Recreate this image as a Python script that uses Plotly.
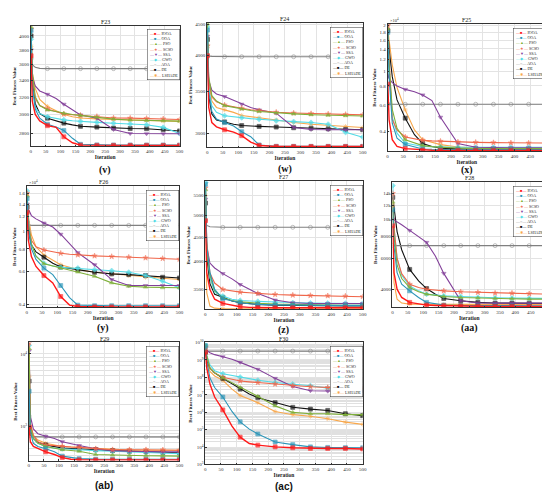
import numpy as np
import plotly.graph_objects as go

ITER = [1, 5, 15, 30, 56, 85, 111, 140, 167, 222, 278, 334, 389, 445, 500]
MARKED = [1, 56, 111, 167, 222, 278, 334, 389, 445, 500]
ALGOS = ["IOOA", "OOA", "PSO", "SCSO", "SSA", "GWO", "AOA", "DE", "LSHADE"]

F23 = {
    "IOOA": [3720, 3150, 3000, 2930, 2880, 2862, 2765, 2705, 2682, 2680, 2680, 2680, 2680, 2680, 2680],
    "OOA": [4080, 3350, 3060, 2960, 2895, 2865, 2830, 2750, 2690, 2684, 2683, 2683, 2683, 2683, 2683],
    "PSO": [4130, 3500, 3200, 3100, 3050, 3030, 3012, 3000, 2990, 2970, 2950, 2940, 2935, 2932, 2928],
    "SCSO": [4100, 3450, 3180, 3100, 3062, 3035, 3005, 2998, 2992, 2978, 2962, 2960, 2957, 2952, 2945],
    "SSA": [3800, 3450, 3330, 3270, 3230, 3180, 3115, 3050, 2995, 2960, 2840, 2798, 2796, 2796, 2796],
    "GWO": [3950, 3300, 3080, 3010, 2975, 2955, 2942, 2932, 2925, 2915, 2905, 2898, 2890, 2862, 2798],
    "AOA": [3680, 3600, 3565, 3552, 3548, 3548, 3548, 3548, 3548, 3548, 3548, 3548, 3548, 3548, 3548],
    "DE": [4000, 3400, 3120, 3010, 2960, 2930, 2907, 2888, 2873, 2865, 2855, 2850, 2848, 2840, 2825],
    "LSHADE": [3850, 3500, 3300, 3170, 3090, 3040, 3000, 2975, 2962, 2952, 2945, 2940, 2935, 2930, 2925],
}
F24 = {
    "IOOA": [4000, 3300, 3120, 3070, 3037, 3010, 2971, 2900, 2865, 2854, 2854, 2854, 2854, 2854, 2854],
    "OOA": [4400, 3500, 3250, 3160, 3119, 3080, 3015, 2960, 2870, 2856, 2855, 2855, 2855, 2855, 2855],
    "PSO": [4500, 3700, 3450, 3380, 3322, 3300, 3280, 3262, 3250, 3232, 3222, 3212, 3206, 3200, 3196],
    "SCSO": [4150, 3650, 3430, 3370, 3330, 3305, 3290, 3272, 3260, 3242, 3232, 3225, 3220, 3215, 3210],
    "SSA": [4300, 3650, 3520, 3470, 3436, 3390, 3340, 3300, 3270, 3230, 3063, 3040, 3037, 3037, 3037],
    "GWO": [4450, 3550, 3320, 3240, 3200, 3185, 3176, 3165, 3158, 3140, 3130, 3120, 3100, 3008, 2954],
    "AOA": [4010, 3995, 3990, 3988, 3985, 3985, 3985, 3985, 3985, 3985, 3985, 3985, 3985, 3985, 3985],
    "DE": [4250, 3450, 3220, 3150, 3127, 3100, 3085, 3078, 3075, 3068, 3060, 3055, 3048, 3040, 3037],
    "LSHADE": [4150, 3600, 3380, 3300, 3270, 3240, 3203, 3185, 3176, 3150, 3120, 3100, 3085, 3075, 3063],
}
F25 = {
    "IOOA": [8220, 4780, 3530, 3193, 3084, 3050, 3021, 3010, 3006, 3005, 3005, 3005, 3005, 3005, 3005],
    "OOA": [18000, 9200, 4540, 3620, 3280, 3160, 3070, 3055, 3045, 3040, 3040, 3040, 3040, 3040, 3040],
    "PSO": [19000, 11000, 5600, 4200, 3530, 3360, 3230, 3180, 3150, 3110, 3090, 3085, 3085, 3085, 3085],
    "SCSO": [20000, 12000, 4800, 4100, 3680, 3570, 3500, 3470, 3450, 3410, 3395, 3380, 3365, 3360, 3360],
    "SSA": [9400, 8950, 8390, 7980, 7580, 7320, 6970, 6400, 4970, 3330, 3150, 3130, 3130, 3130, 3130],
    "GWO": [21000, 10000, 5000, 3900, 3360, 3250, 3190, 3175, 3160, 3150, 3150, 3150, 3150, 3150, 3150],
    "AOA": [6080, 6060, 6050, 6050, 6050, 6050, 6050, 6050, 6050, 6050, 6050, 6050, 6050, 6050, 6050],
    "DE": [18500, 14000, 9200, 6460, 4900, 3810, 3330, 3190, 3110, 3070, 3040, 3040, 3040, 3040, 3040],
    "LSHADE": [20000, 16000, 11000, 7800, 5550, 4100, 3530, 3400, 3280, 3160, 3110, 3080, 3065, 3060, 3060],
}
F26 = {
    "IOOA": [12640, 8910, 7260, 6410, 5720, 5220, 4400, 3950, 3880, 3860, 3860, 3860, 3860, 3860, 3860],
    "OOA": [15000, 10500, 8000, 7000, 6280, 5790, 5050, 4340, 3950, 3920, 3920, 3920, 3920, 3920, 3920],
    "PSO": [15500, 11000, 8500, 7300, 6630, 6450, 6280, 6140, 5980, 5670, 5220, 5000, 4950, 4910, 4910],
    "SCSO": [16000, 11000, 8910, 8210, 7880, 7690, 7560, 7470, 7410, 7320, 7260, 7200, 7140, 7080, 7020],
    "SSA": [14000, 13170, 12130, 11640, 11040, 10500, 9600, 8550, 7620, 6550, 5440, 5050, 5050, 5050, 5050],
    "GWO": [16500, 11500, 8500, 7300, 6680, 6450, 6340, 6300, 6280, 6160, 6080, 5960, 5720, 5330, 4910],
    "AOA": [11200, 10800, 10730, 10730, 10730, 10730, 10730, 10730, 10730, 10730, 10730, 10730, 10730, 10730, 10730],
    "DE": [13500, 10000, 8400, 7700, 7200, 6680, 6360, 6270, 6160, 5960, 5840, 5790, 5720, 5600, 5550],
    "LSHADE": [15500, 12000, 9500, 8200, 7400, 6900, 6550, 6350, 6160, 5960, 5840, 5720, 5600, 5530, 5440],
}
F27 = {
    "IOOA": [4870, 3790, 3500, 3340, 3273, 3243, 3222, 3212, 3206, 3205, 3205, 3205, 3205, 3205, 3205],
    "OOA": [5800, 4300, 3800, 3500, 3347, 3309, 3283, 3268, 3258, 3250, 3245, 3243, 3243, 3243, 3243],
    "PSO": [5650, 4200, 3750, 3480, 3360, 3320, 3300, 3285, 3275, 3262, 3255, 3250, 3247, 3245, 3243],
    "SCSO": [5700, 4400, 3790, 3610, 3500, 3472, 3456, 3445, 3433, 3417, 3406, 3400, 3395, 3390, 3380],
    "SSA": [5400, 4300, 3974, 3881, 3777, 3683, 3584, 3500, 3433, 3326, 3283, 3273, 3273, 3273, 3273],
    "GWO": [5850, 4300, 3700, 3450, 3390, 3340, 3320, 3310, 3305, 3295, 3285, 3280, 3277, 3275, 3273],
    "AOA": [4880, 4760, 4730, 4720, 4718, 4718, 4718, 4718, 4718, 4718, 4718, 4718, 4718, 4718, 4718],
    "DE": [5300, 4100, 3600, 3420, 3370, 3310, 3283, 3268, 3258, 3245, 3240, 3237, 3235, 3235, 3235],
    "LSHADE": [5500, 3444, 3233, 3200, 3191, 3190, 3190, 3190, 3190, 3190, 3190, 3190, 3190, 3190, 3190],
}
F28 = {
    "IOOA": [9160, 4970, 4000, 3590, 3365, 3292, 3250, 3235, 3222, 3210, 3200, 3195, 3194, 3194, 3194],
    "OOA": [11300, 7000, 4970, 4270, 3914, 3590, 3365, 3292, 3250, 3230, 3222, 3222, 3222, 3222, 3222],
    "PSO": [12500, 8000, 5500, 4600, 4085, 3863, 3748, 3680, 3636, 3590, 3560, 3545, 3530, 3512, 3512],
    "SCSO": [14000, 9000, 6000, 4900, 4265, 4085, 4000, 3950, 3914, 3866, 3836, 3800, 3800, 3770, 3748],
    "SSA": [10000, 9900, 9690, 9290, 8630, 7980, 7380, 6160, 4920, 3437, 3340, 3335, 3335, 3335, 3335],
    "GWO": [15500, 9000, 6000, 4800, 4175, 3914, 3748, 3695, 3667, 3636, 3590, 3575, 3560, 3545, 3543],
    "AOA": [7100, 7075, 7073, 7073, 7073, 7073, 7073, 7073, 7073, 7073, 7073, 7073, 7073, 7073, 7073],
    "DE": [13300, 11500, 8500, 6700, 5180, 4455, 4034, 3748, 3543, 3437, 3365, 3337, 3337, 3325, 3323],
    "LSHADE": [12000, 4360, 3512, 3337, 3292, 3285, 3280, 3280, 3280, 3280, 3280, 3280, 3280, 3280, 3280],
}
F29 = {
    "IOOA": [980, 622, 535, 498, 451, 415, 376, 357, 350, 349, 349, 349, 349, 349, 349],
    "OOA": [3070, 841, 591, 535, 498, 451, 394, 376, 364, 358, 357, 357, 357, 357, 357],
    "PSO": [11880, 1030, 688, 591, 535, 508, 483, 470, 459, 415, 407, 403, 399, 397, 394],
    "SCSO": [14230, 1140, 762, 622, 562, 545, 535, 525, 519, 498, 483, 483, 483, 480, 474],
    "SSA": [11060, 1397, 931, 801, 738, 688, 622, 580, 551, 498, 469, 459, 451, 451, 451],
    "GWO": [13130, 1030, 688, 591, 535, 508, 498, 488, 483, 469, 459, 451, 443, 435, 427],
    "AOA": [1400, 760, 730, 725, 724, 724, 724, 724, 724, 724, 724, 724, 724, 724, 724],
    "DE": [4235, 931, 688, 610, 562, 530, 508, 502, 498, 483, 469, 459, 451, 443, 439],
    "LSHADE": [4930, 1030, 762, 655, 591, 562, 535, 525, 519, 498, 483, 478, 476, 474, 474],
}
F30 = {
    "IOOA": [2.8e9, 3.4e8, 4.1e7, 7.4e6, 1.35e6, 1.6e5, 3.7e4, 1.6e4, 1.29e4, 1.02e4, 9.1e3, 8.3e3, 8.3e3, 8.3e3, 7.8e3],
    "OOA": [6.6e9, 8.0e8, 9.3e7, 2.6e7, 7.4e6, 1.1e6, 2.8e5, 1.07e5, 5.6e4, 1.95e4, 1.38e4, 1.02e4, 9.5e3, 9.2e3, 9.1e3],
    "PSO": [6.6e9, 1.8e9, 3.4e8, 1.8e8, 9.3e7, 5.0e7, 2.6e7, 1.4e7, 8.1e6, 2.3e6, 9.7e5, 8.2e5, 8.2e5, 7.2e5, 7.2e5],
    "SCSO": [5.3e9, 1.2e9, 3.4e8, 1.8e8, 1.02e8, 7.6e7, 6.2e7, 5.5e7, 5.0e7, 4.1e7, 3.3e7, 2.9e7, 2.6e7, 2.4e7, 2.3e7],
    "SSA": [4.3e9, 3.5e9, 2.6e9, 2.0e9, 1.5e9, 1.1e9, 7.2e8, 4.7e8, 2.9e8, 8.7e7, 3.0e7, 1.7e7, 1.6e7, 1.6e7, 1.6e7],
    "GWO": [7.0e9, 1.8e9, 5.2e8, 2.4e8, 1.6e8, 1.26e8, 1.02e8, 8.3e7, 6.8e7, 5.0e7, 4.1e7, 3.3e7, 2.4e7, 2.1e7, 1.9e7],
    "AOA": [3.2e9, 3.2e9, 3.2e9, 3.2e9, 3.2e9, 3.2e9, 3.2e9, 3.2e9, 3.2e9, 3.2e9, 3.2e9, 3.2e9, 3.2e9, 3.2e9, 3.2e9],
    "DE": [2.8e9, 9.8e8, 3.4e8, 1.8e8, 8.7e7, 4.1e7, 2.1e7, 1.1e7, 6.8e6, 3.5e6, 1.9e6, 1.5e6, 1.26e6, 8.2e5, 6.3e5],
    "LSHADE": [3.5e9, 8.0e8, 2.2e8, 1.2e8, 6.8e7, 2.1e7, 9.1e6, 5.5e6, 3.5e6, 1.1e6, 7.2e5, 5.8e5, 4.2e5, 2.7e5, 2.0e5],
}

X_TICKS = [0, 50, 100, 150, 200, 250, 300, 350, 400, 450, 500]
F23_TICKS = [2800, 3000, 3200, 3400, 3600, 3800, 4000]
F24_TICKS = [3000, 3500, 4000, 4500]
F25_TICKS = [4000, 6000, 8000, 10000, 12000, 14000, 16000, 18000, 20000]
F25_LABELS = ["0.4", "0.6", "0.8", "1", "1.2", "1.4", "1.6", "1.8", "2"]
F26_TICKS = [4000, 6000, 8000, 10000, 12000, 14000, 16000]
F26_LABELS = ["0.4", "0.6", "0.8", "1", "1.2", "1.4", "1.6"]
F27_TICKS = [3500, 4000, 4500, 5000, 5500]
F28_TICKS = [4000, 6000, 8000, 10000, 12000, 14000]
F29_TICKS = [1e3, 1e4]
F29_LABELS = ["10<sup>3</sup>", "10<sup>4</sup>"]
F30_TICKS = [1e3, 1e4, 1e5, 1e6, 1e7, 1e8, 1e9, 1e10]
F30_LABELS = ["10<sup>3</sup>", "10<sup>4</sup>", "10<sup>5</sup>", "10<sup>6</sup>",
              "10<sup>7</sup>", "10<sup>8</sup>", "10<sup>9</sup>", "10<sup>10</sup>"]

STYLE = {
    "IOOA": ("#ff1a1a", "square", "■", 1.4),
    "OOA": ("#2b95b8", "square", "■", 1.1),
    "PSO": ("#7fb03a", "triangle-up", "▲", 1.1),
    "SCSO": ("#f0664a", "star", "★", 1.1),
    "SSA": ("#83409a", "triangle-down", "▼", 1.1),
    "GWO": ("#52dbe6", "diamond", "◆", 1.1),
    "AOA": ("#808080", "circle-open", "○", 1.1),
    "DE": ("#111111", "square", "■", 1.1),
    "LSHADE": ("#f8a84c", "asterisk-open", "✱", 1.1),
}

# (title, data, caption, caption px-y, x-domain, y-domain, y-range, tickvals, ticktext, exp-label, minor grid)
PANELS = [
    ("F23", F23, "(v)", 161, [0.040, 0.313], [0.7215, 0.9695], (2670, 4150), F23_TICKS, None, None, False),
    ("F24", F24, "(w)", 160, [0.3636, 0.649], [0.7195, 0.9756], (2845, 4520), F24_TICKS, None, None, False),
    ("F25", F25, "(x)", 161, [0.6945, 0.9855], [0.7114, 0.9736], (2965, 20500), F25_TICKS, F25_LABELS, "×10<sup>4</sup>", False),
    ("F26", F26, "(y)", 321, [0.0327, 0.3127], [0.3902, 0.6402], (3840, 17600), F26_TICKS, F26_LABELS, "×10<sup>4</sup>", False),
    ("F27", F27, "(z)", 323, [0.36, 0.649], [0.3862, 0.6504], (3182, 5895), F27_TICKS, None, None, False),
    ("F28", F28, "(aa)", 321, [0.7036, 0.9855], [0.3902, 0.6484], (3154, 16280), F28_TICKS, None, None, False),
    ("F29", F29, "(ab)", 480, [0.0364, 0.3127], [0.0751, 0.318], (343, 14400), F29_TICKS, F29_LABELS, None, True),
    ("F30", F30, "(ac)", 481, [0.36, 0.649], [0.0669, 0.318], (1e3, 1e10), F30_TICKS, F30_LABELS, None, True),
]

SERIF = "Liberation Serif"
marker_sizes = [4 if it in MARKED else 0 for it in ITER]

fig = go.Figure()
layout = dict(
    width=550, height=492,
    margin=dict(l=0, r=0, t=0, b=0),
    paper_bgcolor="white", plot_bgcolor="white",
    showlegend=False,
    font=dict(family=SERIF, color="#222"),
)
annotations = []

for i, (title, data, caption, cap_y, xd, yd, yr, tv, tt, exp_lbl, minor) in enumerate(PANELS, start=1):
    sfx = "" if i == 1 else str(i)
    xa, ya = f"x{sfx}", f"y{sfx}"
    for algo in reversed(ALGOS):
        color, symbol, _, width = STYLE[algo]
        fig.add_trace(go.Scatter(
            x=ITER, y=data[algo], xaxis=xa, yaxis=ya,
            mode="lines+markers", name=algo,
            line=dict(color=color, width=width),
            marker=dict(symbol=symbol, size=marker_sizes, color=color,
                        line=dict(color=color, width=0.7)),
            hoverinfo="name+x+y",
        ))

    axis_common = dict(
        showline=True, mirror=True, linecolor="#333", linewidth=0.6,
        ticks="inside", ticklen=2, tickwidth=0.5, tickcolor="#333",
        showgrid=True, gridcolor="#e3e3e3", gridwidth=0.5, zeroline=False,
        tickfont=dict(size=5, family=SERIF, color="#333"),
    )
    layout[f"xaxis{sfx}"] = dict(
        axis_common, domain=xd, anchor=ya, range=[0, 500],
        tickvals=X_TICKS,
        title=dict(text="<b>Iteration</b>", font=dict(size=5.5, family=SERIF), standoff=0),
    )
    yaxis = dict(
        axis_common, domain=yd, anchor=xa, type="log",
        range=[np.log10(yr[0]), np.log10(yr[1])],
        tickvals=tv,
        title=dict(text="<b>Best Fitness Value</b>", font=dict(size=5, family=SERIF), standoff=2),
    )
    if tt is not None:
        yaxis["ticktext"] = tt
    if minor:
        yaxis["minor"] = dict(dtick="D1", showgrid=True, gridcolor="#e0e0e0", gridwidth=0.5, ticks="")
    layout[f"yaxis{sfx}"] = yaxis

    xref, yref = f"x{sfx} domain", f"y{sfx} domain"
    annotations.append(dict(
        text=title, xref=xref, yref=yref, x=0.5, y=1.0, xanchor="center", yanchor="bottom",
        showarrow=False, font=dict(size=6, family=SERIF, color="#222"), yshift=-1.5,
    ))
    if exp_lbl:
        annotations.append(dict(
            text=exp_lbl, xref=xref, yref=yref, x=0.0, y=1.0, xanchor="left", yanchor="bottom",
            showarrow=False, font=dict(size=4.5, family=SERIF, color="#333"), yshift=-1,
        ))
    legend_lines = []
    for algo in ALGOS:
        color, _, glyph, _ = STYLE[algo]
        legend_lines.append(
            f"<span style='color:{color}'>—{glyph}—</span> {algo}"
        )
    annotations.append(dict(
        text="<br>".join(legend_lines), xref=xref, yref=yref, x=1.0, y=0.97,
        xanchor="right", yanchor="top", align="left", showarrow=False,
        font=dict(size=4, family=SERIF, color="#222"),
        bgcolor="white", bordercolor="#333", borderwidth=0.5, borderpad=1.5,
    ))
    cap_font = "Liberation Sans" if caption in ("(ab)", "(ac)") else SERIF
    annotations.append(dict(
        text=f"<b>{caption}</b>", xref="paper", yref="paper",
        x=(xd[0] + xd[1]) / 2, y=1 - cap_y / 492, xanchor="center", yanchor="middle",
        showarrow=False, font=dict(size=10, family=cap_font, color="#111"),
    ))

layout["annotations"] = annotations
fig.update_layout(**layout)
fig.write_html("out.html")
